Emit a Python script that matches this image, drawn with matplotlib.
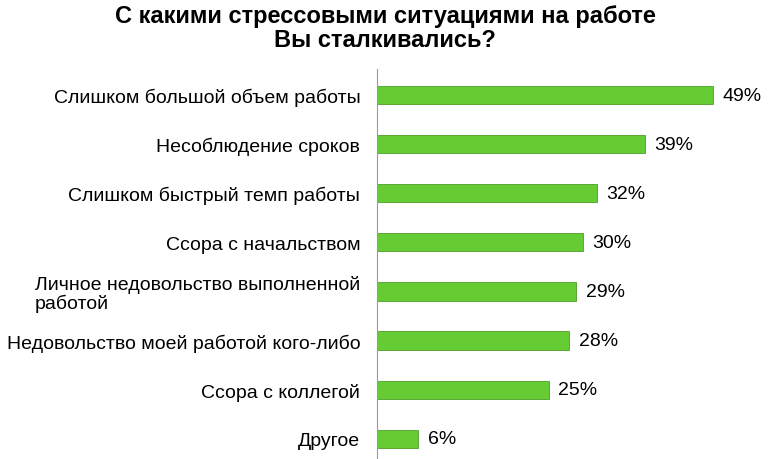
import matplotlib
matplotlib.use("Agg")
import matplotlib.pyplot as plt

categories = ["Слишком большой объем работы", "Несоблюдение сроков", "Слишком быстрый темп работы",
              "Ссора с начальством", "Личное недовольство выполненной\nработой",
              "Недовольство моей работой кого-либо", "Ссора с коллегой", "Другое"]
values = [49, 39, 32, 30, 29, 28, 25, 6]
title = "С какими стрессовыми ситуациями на работе\nВы сталкивались?"

plt.rcParams["font.family"] = "Liberation Sans"
fig = plt.figure(figsize=(7.7, 4.6), dpi=100)
ax = fig.add_axes([377/770, 0, 383/770, 390/460])
ys = list(range(len(values)))
ax.barh(ys, values, height=0.37, color="#66CC33", edgecolor="#4f9e28", linewidth=0.6)
ax.set_xlim(0, 383/6.86)
ax.set_ylim(-0.53 + 390/49.1, -0.53)
for y, v in zip(ys, values):
    ax.text(v + 1.4, y, f"{v}%", va="center", ha="left", fontsize=14)
ax.set_yticks(ys)
ax.set_yticklabels(categories, fontsize=14, ha="right", multialignment="left", linespacing=1.0)
ax.tick_params(axis="y", length=0, pad=12)
ax.set_xticks([])
for s in ["top", "right", "bottom"]:
    ax.spines[s].set_visible(False)
ax.spines["left"].set_color("#999999")
fig.text(0.5, 0.99, title, ha="center", va="top", fontsize=17, fontweight="bold", linespacing=1.1)
fig.savefig("out.png", dpi=100)
